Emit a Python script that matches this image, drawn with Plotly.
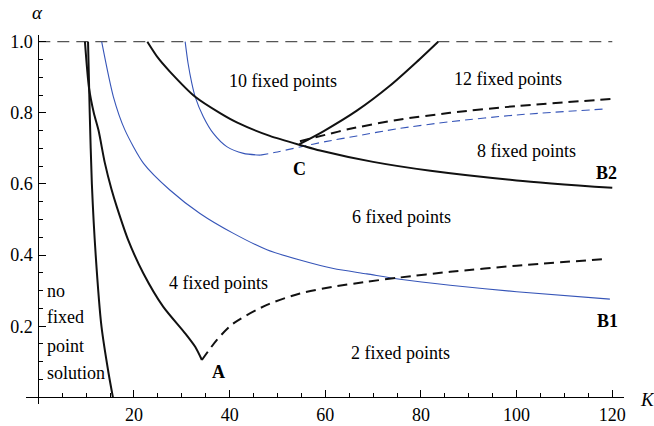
import plotly.graph_objects as go

# Phase diagram of the number of fixed points in the (K, alpha) plane.

# Boundary beyond which no fixed point solution exists
nofp_K = [10.4, 10.75, 11.2, 12.0, 13.2, 14.7, 15.6]
nofp_a = [1.0, 0.8, 0.6, 0.4, 0.2, 0.067, 0.0]

# Branch ending at the cusp A (solid) and its continuation (dashed)
a_solid_K = [9.75, 10.6, 11.6, 12.6, 13.9, 15.3, 16.5, 18.8, 21.95, 26.1, 30.7, 32.8, 34.2]
a_solid_a = [1.0, 0.87, 0.8, 0.75, 0.66, 0.585, 0.532, 0.442, 0.349, 0.255, 0.18, 0.142, 0.105]
a_dash_K = [34.2, 37.3, 40.8, 47.8, 54.7, 61.7, 68.7, 75.6, 86.1, 100.0, 118.6]
a_dash_a = [0.105, 0.161, 0.208, 0.26, 0.292, 0.311, 0.325, 0.337, 0.353, 0.37, 0.389]

# Curve B1 (thin blue)
b1_K = [13.25, 15.7, 18.1, 22.0, 27.5, 33.8, 40.8, 47.8, 54.7, 61.7, 68.7, 75.6, 86.1, 100.0, 119.5]
b1_a = [1.0, 0.845, 0.752, 0.658, 0.583, 0.517, 0.461, 0.415, 0.386, 0.362, 0.347, 0.332, 0.315, 0.297, 0.276]

# Curve B2 (thick black)
b2_K = [22.8, 25.0, 27.5, 32.8, 38.0, 41.5, 48.4, 55.4, 58.9, 70.0, 82.0, 100.0, 120.0]
b2_a = [1.0, 0.955, 0.916, 0.845, 0.799, 0.773, 0.735, 0.707, 0.694, 0.662, 0.637, 0.61, 0.589]

# Second blue branch: solid down to its minimum, dashed afterwards
blue2_solid_K = [30.7, 31.3, 32.1, 32.8, 34.5, 36.6, 39.4, 42.9, 46.4]
blue2_solid_a = [1.0, 0.94, 0.883, 0.845, 0.789, 0.742, 0.705, 0.686, 0.681]
blue2_dash_K = [46.4, 50.0, 54.7, 60.0, 66.6, 75.0, 86.1, 100.0, 118.8]
blue2_dash_a = [0.681, 0.69, 0.704, 0.719, 0.735, 0.755, 0.775, 0.794, 0.811]

# Branches leaving the point C
c_up_K = [54.6, 59.6, 66.6, 73.5, 79.1, 83.6]
c_up_a = [0.712, 0.748, 0.806, 0.876, 0.943, 1.0]
c_dash_K = [54.7, 60.0, 65.2, 75.0, 86.1, 100.0, 120.0]
c_dash_a = [0.72, 0.738, 0.755, 0.78, 0.8, 0.819, 0.839]

# alpha = 1 limit
top_K = [0.0, 120.0]
top_a = [1.0, 1.0]

x_ticks = [20, 40, 60, 80, 100, 120]
y_ticks = [0.2, 0.4, 0.6, 0.8, 1.0]
y_ticklabels = ["0.2", "0.4", "0.6", "0.8", "1.0"]

# Region labels: (text, K, alpha, anchor, bold)
region_labels = [
    ("10 fixed points", 39.4, 0.889, "left", False),
    ("12 fixed points", 86.5, 0.895, "left", False),
    ("8 fixed points", 91.3, 0.693, "left", False),
    ("6 fixed points", 65.2, 0.507, "left", False),
    ("4 fixed points", 26.9, 0.321, "left", False),
    ("2 fixed points", 64.9, 0.125, "left", False),
    ("no", 1.5, 0.298, "left", False),
    ("fixed", 1.5, 0.226, "left", False),
    ("point", 1.5, 0.144, "left", False),
    ("solution", 1.5, 0.068, "left", False),
    ("A", 37.6, 0.071, "center", True),
    ("C", 54.7, 0.642, "center", True),
    ("B1", 118.9, 0.215, "center", True),
    ("B2", 118.7, 0.631, "center", True),
]

BLACK = "#111111"
BLUE = "#3655b8"
GREY = "#555555"
FONT = "Times New Roman, Liberation Serif, serif"

fig = go.Figure()


def add_curve(xs, ys, color, width, dash="solid"):
    fig.add_trace(go.Scatter(
        x=xs, y=ys, mode="lines",
        line=dict(color=color, width=width, dash=dash, shape="spline", smoothing=0.7),
        hoverinfo="skip", showlegend=False,
    ))


add_curve(top_K, top_a, GREY, 1.2, "12px,7px")
add_curve(b1_K, b1_a, BLUE, 1.1)
add_curve(blue2_solid_K, blue2_solid_a, BLUE, 1.1)
add_curve(blue2_dash_K, blue2_dash_a, BLUE, 1.1, "8px,5px")
add_curve(nofp_K, nofp_a, BLACK, 2)
add_curve(a_solid_K, a_solid_a, BLACK, 2)
add_curve(a_dash_K, a_dash_a, BLACK, 2, "10px,6px")
add_curve(b2_K, b2_a, BLACK, 2)
add_curve(c_up_K, c_up_a, BLACK, 2)
add_curve(c_dash_K, c_dash_a, BLACK, 2, "10px,6px")

for text, kx, ay, anchor, bold in region_labels:
    fig.add_annotation(
        x=kx, y=ay, xref="x", yref="y",
        text=f"<b>{text}</b>" if bold else text,
        showarrow=False, xanchor=anchor, yanchor="middle",
        font=dict(family=FONT, size=18, color="black"),
    )

x_range = [-2.571, 122.45]
y_range = [-0.0188, 1.0188]
x_zero = (0 - x_range[0]) / (x_range[1] - x_range[0])
y_zero = (0 - y_range[0]) / (y_range[1] - y_range[0])

# Axis names next to the ends of the axes
fig.add_annotation(x=x_zero - 0.002, y=1.06, xref="paper", yref="paper", text="<i>α</i>",
                   xanchor="center", yanchor="middle",
                   showarrow=False, font=dict(family=FONT, size=19, color="black"))
fig.add_annotation(x=1.04, y=y_zero - 0.005, xref="paper", yref="paper", text="<i>K</i>",
                   xanchor="center", yanchor="middle",
                   showarrow=False, font=dict(family=FONT, size=19, color="black"))

fig.update_layout(
    template="none",
    width=654, height=426,
    margin=dict(l=26, r=30, t=35, b=22),
    paper_bgcolor="white", plot_bgcolor="white",
    font=dict(family=FONT, size=18, color="black"),
    xaxis=dict(
        range=x_range, showgrid=False, zeroline=False, automargin=False,
        showline=True, linecolor="black", linewidth=1,
        anchor="free", position=y_zero,
        tickmode="array", tickvals=x_ticks, ticktext=[str(v) for v in x_ticks],
        ticks="inside", ticklen=7, tickwidth=1, tickcolor="black",
        ticklabelstandoff=1,
        minor=dict(tickvals=[v for v in range(5, 121, 5) if v % 20], ticks="inside",
                   ticklen=4, tickwidth=1, tickcolor="black", showgrid=False),
        tickfont=dict(family=FONT, size=18, color="black"),
    ),
    yaxis=dict(
        range=y_range, showgrid=False, zeroline=False, automargin=False,
        showline=True, linecolor="black", linewidth=1,
        anchor="free", position=x_zero,
        tickmode="array", tickvals=y_ticks, ticktext=y_ticklabels,
        ticks="inside", ticklen=7, tickwidth=1, tickcolor="black",
        ticklabelstandoff=2,
        minor=dict(tickvals=[round(0.05 * i, 2) for i in range(1, 21) if i % 4],
                   ticks="inside", ticklen=4, tickwidth=1, tickcolor="black", showgrid=False),
        tickfont=dict(family=FONT, size=18, color="black"),
    ),
)

fig.write_html("out.html")
